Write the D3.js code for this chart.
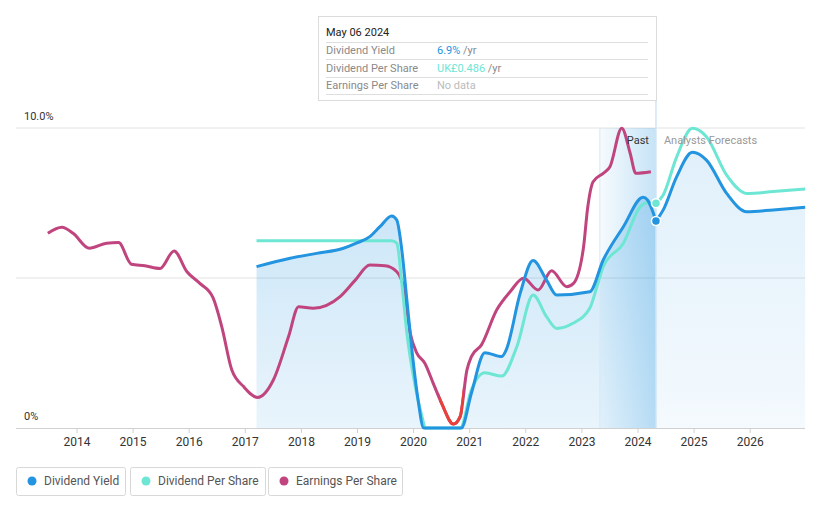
<!DOCTYPE html>
<html><head><meta charset="utf-8">
<script src="https://cdn.jsdelivr.net/npm/d3@7"></script>
<style>
body{margin:0;background:#fff;font-family:Roboto,"Noto Sans",sans-serif;}
svg{display:block}
</style></head><body>
<svg id="c" width="821" height="508"></svg>
<script>
// ---- data (year fraction, value in %) ----
const yieldDates = [2017.2,2017.8,2018.27,2018.75,2018.98,2019.22,2019.4,2019.61,2019.7,2019.79,2019.88,2019.97,2020.08,2020.18,2020.85,2021.03,2021.27,2021.57,2021.65,2021.9,2022.13,2022.37,2022.55,2023.14,2023.38,2023.74,2024.09,2024.17,2024.32];
const yieldValues = [5.38,5.66,5.82,5.99,6.16,6.38,6.71,7.07,6.93,5.93,4.27,2.6,0.93,0,0,1.16,2.51,2.38,2.6,4.49,5.58,4.93,4.43,4.54,5.6,6.71,7.69,7.6,6.9];
const yieldFcDates = [2024.32,2024.45,2024.69,2024.97,2025.22,2025.58,2025.94,2026.41,2026.98];
const yieldFcValues = [6.9,7.27,8.38,9.19,8.93,7.82,7.21,7.27,7.36];

const dpsDates = [2017.2,2019.61,2019.7,2019.79,2019.88,2020.03,2020.15,2020.21,2020.83,2021.03,2021.27,2021.57,2021.84,2022.13,2022.37,2022.55,2022.84,2023.14,2023.26,2023.38,2023.74,2024.04,2024.17,2024.32];
const dpsValues = [6.24,6.24,6.16,4.82,3.16,1.38,0.38,0,0,1.27,1.84,1.73,2.71,4.43,3.71,3.32,3.49,3.99,4.66,5.38,6.16,7.38,7.51,7.49];
const dpsFcDates = [2024.32,2024.45,2024.69,2024.97,2025.22,2025.58,2025.94,2026.41,2026.98];
const dpsFcValues = [7.49,7.77,9.04,9.99,9.71,8.43,7.82,7.88,7.97];

const epsDates = [2013.48,2013.73,2013.93,2014.22,2014.53,2014.74,2014.97,2015.21,2015.48,2015.73,2015.96,2016.19,2016.42,2016.58,2016.76,2016.97,2017.22,2017.5,2017.77,2017.95,2018.21,2018.69,2018.96,2019.22,2019.49,2019.7,2019.82,2019.94,2020.06,2020.2,2020.35,2020.5,2020.71,2020.83,2020.95,2021.03,2021.21,2021.48,2021.72,2021.96,2022.22,2022.46,2022.73,2022.85,2023.03,2023.1,2023.2,2023.38,2023.5,2023.71,2023.86,2023.96,2024.23];
const epsValues = [6.49,6.69,6.49,5.99,6.16,6.18,5.46,5.41,5.32,5.9,5.21,4.82,4.36,3.38,1.93,1.38,1.02,1.6,3.04,4.04,3.99,4.38,4.93,5.43,5.41,5.21,4.71,3.16,2.49,2.16,1.49,0.82,0.13,0.38,1.93,2.38,2.77,3.93,4.54,4.99,4.6,5.24,4.71,4.82,6.04,7.3,8.21,8.49,8.71,9.99,9.16,8.49,8.54];
const epsNegStart = 2020.45, epsNegEnd = 2020.88;

const xTicks = [2014,2015,2016,2017,2018,2019,2020,2021,2022,2023,2024,2025,2026];
const yTicks = [0,10];
const yTickLabels = ["0%","10.0%"];
const pastStart = 2023.32, nowDate = 2024.32;

const tipTitle = "May 06 2024";
const tipRows = [
  {label:"Dividend Yield", value:"6.9%", unit:" /yr", color:"#2394df"},
  {label:"Dividend Per Share", value:"UK£0.486", unit:" /yr", color:"#6ee6d4"},
  {label:"Earnings Per Share", value:"No data", unit:"", color:"#bbb"}
];
const legendItems = [
  {name:"Dividend Yield", color:"#2394df"},
  {name:"Dividend Per Share", color:"#6ee6d4"},
  {name:"Earnings Per Share", color:"#c0457f"}
];

// ---- chart ----
const svg = d3.select("#c");
const x = d3.scaleLinear().domain([2014, 2024]).range([77, 638]);
const y = d3.scaleLinear().domain([0, 10]).range([428, 128]);
const left = 16, right = 805;

const defs = svg.append("defs");
const gPast = defs.append("linearGradient").attr("id","gPast").attr("x1",0).attr("x2",0).attr("y1",0).attr("y2",1);
gPast.append("stop").attr("offset","0%").attr("stop-color","#2394df").attr("stop-opacity",0.24);
gPast.append("stop").attr("offset","100%").attr("stop-color","#2394df").attr("stop-opacity",0.1);
const gFc = defs.append("linearGradient").attr("id","gFc").attr("x1",0).attr("x2",0).attr("y1",0).attr("y2",1);
gFc.append("stop").attr("offset","0%").attr("stop-color","#2394df").attr("stop-opacity",0.14);
gFc.append("stop").attr("offset","100%").attr("stop-color","#2394df").attr("stop-opacity",0.05);
const gBand = defs.append("linearGradient").attr("id","gBand").attr("x1",0).attr("x2",1).attr("y1",0).attr("y2",0);
gBand.append("stop").attr("offset","0%").attr("stop-color","#2394df").attr("stop-opacity",0.04);
gBand.append("stop").attr("offset","100%").attr("stop-color","#2394df").attr("stop-opacity",0.26);

// gridlines
svg.append("g").selectAll("line").data([5,10]).join("line")
  .attr("x1",left).attr("x2",right).attr("y1",d=>y(d)).attr("y2",d=>y(d))
  .attr("stroke","#e2e2e2").attr("stroke-width",1);

const curve = d3.curveMonotoneX;
const zip = (ds,vs)=>ds.map((d,i)=>[d,vs[i]]);
const yieldPts = zip(yieldDates,yieldValues);
const yieldFcPts = zip(yieldFcDates,yieldFcValues);
const dpsPts = zip(dpsDates,dpsValues);
const dpsFcPts = zip(dpsFcDates,dpsFcValues);
const epsPts = zip(epsDates,epsValues);

const area = d3.area().x(d=>x(d[0])).y0(y(0)).y1(d=>y(d[1])).curve(curve);
const line = d3.line().x(d=>x(d[0])).y(d=>y(d[1])).curve(curve);

svg.append("path").attr("d",area(yieldFcPts)).attr("fill","url(#gFc)");
svg.append("path").attr("d",area(yieldPts)).attr("fill","url(#gPast)");
// past band
svg.append("rect").attr("x",x(pastStart)).attr("y",y(10)).attr("width",x(nowDate)-x(pastStart)).attr("height",y(0)-y(10))
  .attr("fill","url(#gBand)");
svg.append("line").attr("x1",x(pastStart)).attr("x2",x(pastStart)).attr("y1",y(10)).attr("y2",y(0)).attr("stroke","#d6e8f6").attr("stroke-width",1);
// now line
svg.append("line").attr("x1",x(nowDate)).attr("x2",x(nowDate)).attr("y1",16).attr("y2",y(0)).attr("stroke","#cfe4f5").attr("stroke-width",1.5);

// baseline axis
svg.append("line").attr("x1",left).attr("x2",right).attr("y1",y(0)+0.5).attr("y2",y(0)+0.5).attr("stroke","#d0d0d0");
svg.append("g").selectAll("line").data(xTicks).join("line")
  .attr("x1",d=>x(d)).attr("x2",d=>x(d)).attr("y1",y(0)).attr("y2",y(0)+5).attr("stroke","#d0d0d0");
svg.append("g").selectAll("text").data(xTicks).join("text")
  .attr("x",d=>x(d)).attr("y",446).attr("text-anchor","middle")
  .attr("font-size",12).attr("fill","#333").text(d=>d);
svg.append("g").selectAll("text").data(yTicks).join("text")
  .attr("x",24).attr("y",d=>y(d)-8).attr("font-size",11).attr("fill","#333").text((d,i)=>yTickLabels[i]);

// lines
const lw = 3;
svg.append("path").attr("d",line(epsPts)).attr("fill","none").attr("stroke","#c0457f").attr("stroke-width",lw);
const clip = defs.append("clipPath").attr("id","negClip");
clip.append("rect").attr("x",x(epsNegStart)).attr("y",0).attr("width",x(epsNegEnd)-x(epsNegStart)).attr("height",508);
svg.append("path").attr("d",line(epsPts)).attr("fill","none").attr("stroke","#e8413a").attr("stroke-width",lw).attr("clip-path","url(#negClip)");

svg.append("path").attr("d",line(dpsPts)).attr("fill","none").attr("stroke","#6ee6d4").attr("stroke-width",lw);
svg.append("path").attr("d",line(dpsFcPts)).attr("fill","none").attr("stroke","#6ee6d4").attr("stroke-width",lw);
svg.append("path").attr("d",line(yieldPts)).attr("fill","none").attr("stroke","#2394df").attr("stroke-width",lw);
svg.append("path").attr("d",line(yieldFcPts)).attr("fill","none").attr("stroke","#2394df").attr("stroke-width",lw);

// dots
svg.append("circle").attr("cx",x(nowDate)).attr("cy",y(dpsFcValues[0])).attr("r",4.5).attr("fill","#6ee6d4").attr("stroke","#fff").attr("stroke-width",1.5);
svg.append("circle").attr("cx",x(nowDate)).attr("cy",y(yieldFcValues[0])).attr("r",4.5).attr("fill","#2394df").attr("stroke","#fff").attr("stroke-width",1.5);

// labels
svg.append("text").attr("x",x(nowDate)-7).attr("y",144).attr("text-anchor","end").attr("font-size",11).attr("fill","#333").text("Past");
svg.append("text").attr("x",x(nowDate)+8).attr("y",144).attr("font-size",11).attr("fill","#999").text("Analysts Forecasts");

// tooltip
const tip = svg.append("g");
tip.append("rect").attr("x",318.5).attr("y",16.5).attr("width",338).attr("height",84).attr("fill","#fff").attr("stroke","#dcdcdc");
tip.append("text").attr("x",326).attr("y",36).attr("font-size",11).attr("fill","#222").text(tipTitle);
const rowY = [54,72,89];
[42,59,77,94].forEach(ly=>tip.append("line").attr("x1",326).attr("x2",648).attr("y1",ly+0.5).attr("y2",ly+0.5).attr("stroke","#dedede"));
tipRows.forEach((r,i)=>{
  tip.append("text").attr("x",326).attr("y",rowY[i]).attr("font-size",11).attr("fill","#8a8a8a").text(r.label);
  const t = tip.append("text").attr("x",437).attr("y",rowY[i]).attr("font-size",11);
  t.append("tspan").attr("fill",r.color).text(r.value);
  t.append("tspan").attr("fill","#8a8a8a").text(r.unit);
});

// legend
const lg = svg.append("g");
const boxes = [[16,109],[130,135],[268,134]];
legendItems.forEach((it,i)=>{
  const [bx,bw] = boxes[i];
  lg.append("rect").attr("x",bx+0.5).attr("y",467.5).attr("width",bw).attr("height",28).attr("rx",2).attr("fill","#fff").attr("stroke","#d8d8d8");
  lg.append("circle").attr("cx",bx+16).attr("cy",481).attr("r",4.5).attr("fill",it.color);
  lg.append("text").attr("x",bx+28).attr("y",485).attr("font-size",12).attr("fill","#555").text(it.name);
});
</script></body></html>
